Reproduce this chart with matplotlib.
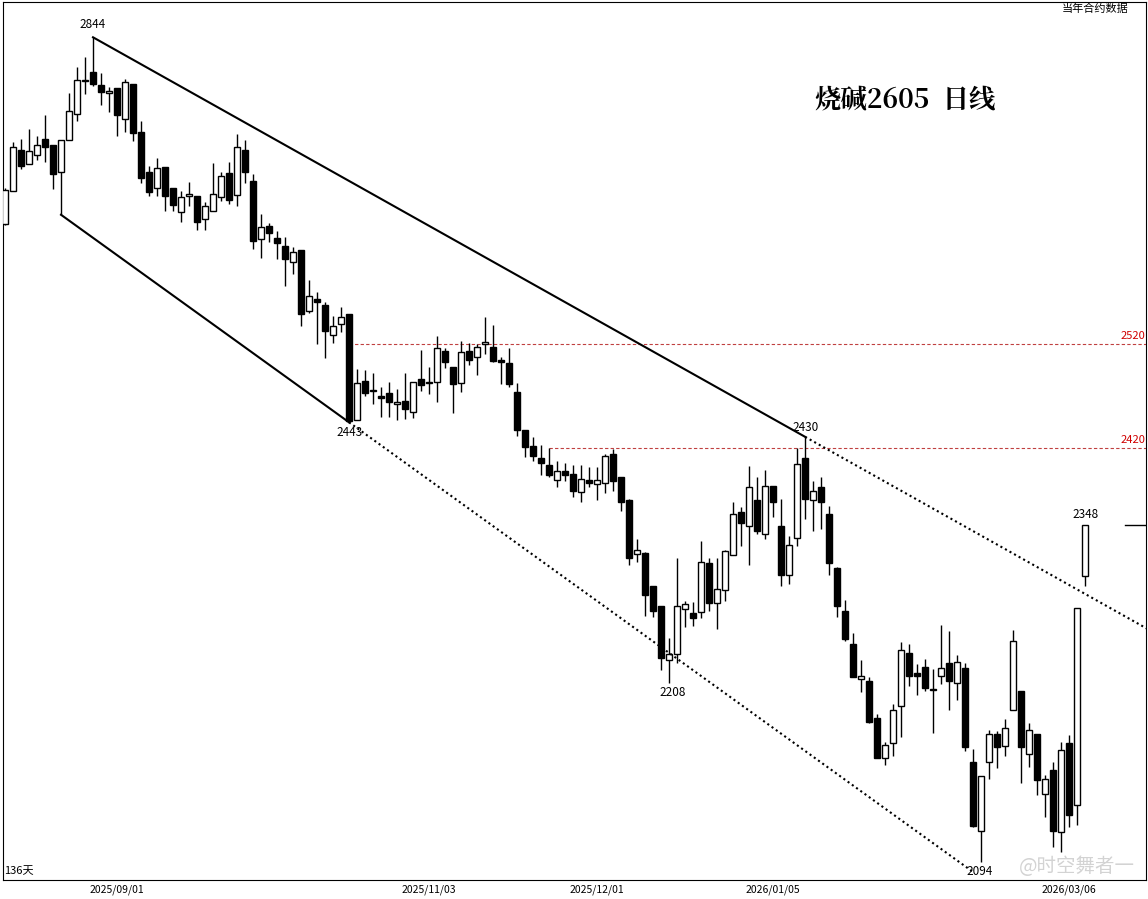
import matplotlib
matplotlib.use("Agg")
import matplotlib.pyplot as plt
import numpy as np

plt.rcParams['font.family'] = ['Noto Sans CJK SC', 'DejaVu Sans']

opens = [2636,2668,2707,2694,2703,2718,2712,2686,2717,2742,2774,2783,2770,2762,2767,2737,2771,2725,2686,2671,
         2691,2671,2648,2663,2663,2641,2649,2662,2685,2664,2707,2678,2622,2634,2623,2615,2599,2611,2552,2564,
         2558,2529,2540,2549,2447,2485,2475,2470,2473,2463,2466,2455,2487,2484,2484,2514,2498,2483,2514,2508,
         2520,2518,2505,2502,2474,2438,2422,2411,2404,2389,2398,2395,2378,2389,2386,2387,2414,2392,2370,2318,
         2319,2287,2268,2216,2222,2265,2261,2262,2309,2271,2283,2317,2359,2345,2370,2337,2384,2345,2298,2334,
         2411,2370,2383,2357,2305,2263,2231,2198,2196,2160,2122,2136,2172,2223,2203,2209,2188,2201,2213,2194,
         2208,2118,2051,2118,2145,2133,2168,2186,2125,2145,2087,2110,2050,2136,2076,2297]
highs = [2671,2715,2718,2728,2721,2741,2712,2717,2762,2787,2797,2816,2782,2768,2767,2776,2771,2735,2692,2700,
         2691,2671,2668,2677,2663,2657,2695,2686,2696,2723,2717,2684,2646,2637,2629,2624,2614,2611,2582,2571,
         2561,2547,2556,2549,2496,2495,2493,2479,2484,2477,2493,2484,2515,2498,2528,2517,2498,2523,2521,2520,
         2546,2539,2508,2517,2483,2438,2431,2423,2420,2408,2406,2404,2404,2402,2402,2414,2419,2392,2371,2333,
         2320,2287,2268,2237,2314,2273,2272,2331,2314,2314,2322,2368,2363,2403,2392,2399,2384,2371,2335,2420,
         2431,2388,2392,2364,2306,2274,2242,2216,2200,2164,2137,2174,2233,2231,2212,2217,2207,2250,2244,2221,
         2213,2130,2104,2149,2148,2159,2245,2186,2155,2145,2105,2118,2137,2144,2266,2346]
lows = [2635,2668,2689,2694,2698,2696,2670,2645,2717,2735,2761,2769,2751,2744,2721,2725,2716,2676,2663,2663,
        2649,2649,2638,2653,2630,2630,2649,2658,2655,2653,2676,2612,2603,2619,2602,2576,2588,2538,2550,2520,
        2507,2521,2532,2445,2447,2470,2463,2450,2450,2447,2448,2449,2475,2472,2465,2497,2454,2474,2500,2491,
        2511,2503,2482,2479,2432,2412,2408,2394,2392,2383,2388,2373,2368,2383,2370,2377,2379,2360,2308,2310,
        2258,2257,2206,2194,2213,2248,2249,2256,2263,2246,2273,2317,2326,2308,2337,2333,2354,2287,2289,2326,
        2352,2340,2342,2298,2257,2234,2200,2185,2155,2122,2115,2123,2142,2191,2182,2186,2146,2193,2168,2177,
        2128,2055,2021,2101,2112,2123,2168,2097,2113,2086,2065,2036,2031,2055,2057,2287]
closes = [2669,2710,2692,2706,2712,2710,2684,2717,2745,2775,2775,2771,2763,2764,2741,2773,2724,2680,2667,2690,
          2663,2654,2662,2665,2638,2653,2665,2682,2659,2710,2686,2620,2633,2627,2618,2602,2609,2549,2567,2561,
          2533,2538,2546,2446,2483,2473,2476,2468,2465,2465,2458,2484,2481,2483,2517,2503,2482,2513,2505,2518,
          2522,2504,2503,2482,2438,2421,2413,2406,2394,2398,2394,2379,2390,2387,2389,2413,2388,2368,2314,2322,
          2279,2263,2218,2222,2268,2270,2256,2310,2271,2284,2321,2357,2348,2383,2340,2384,2368,2298,2327,2405,
          2371,2379,2368,2309,2268,2236,2200,2201,2156,2122,2134,2168,2226,2201,2201,2189,2187,2208,2196,2214,
          2132,2056,2104,2145,2132,2150,2234,2132,2149,2100,2101,2051,2129,2067,2266,2346]

date_idx = [14, 53, 74, 96, 133]
date_labels = ["2025/09/01", "2025/11/03", "2025/12/01", "2026/01/05", "2026/03/06"]
levels = [2520, 2420]
level_start = [43, 68]

o = np.array(opens); h = np.array(highs); l = np.array(lows); c = np.array(closes)
x = np.arange(len(o))

fig = plt.figure(figsize=(11.48, 8.99), dpi=100)
ax = fig.add_axes([3/1148, 19/899, 1143/1148, 878/899])
ax.set_xlim(-0.25, 142.6)
ax.set_ylim(2004, 2850)

lw = 1.0
ax.vlines(x, l, h, color='black', linewidth=lw, zorder=2)
up = c >= o
bot = np.minimum(o, c); ht = np.maximum(np.abs(c - o), 0.8)
ax.bar(x[up], ht[up], bottom=bot[up], width=0.72, facecolor='white', edgecolor='black', linewidth=lw, zorder=3)
ax.bar(x[~up], ht[~up], bottom=bot[~up], width=0.72, facecolor='black', edgecolor='black', linewidth=lw, zorder=3)

i1, i2 = 11, 100
p1, p2 = highs[i1], highs[i2]
s = (p2 - p1) / (i2 - i1)
ax.plot([i1, i2], [p1, p2], color='black', linewidth=1.5, zorder=4)
ax.plot([i2, 143], [p2, p2 + s * (143 - i2)], color='black', linewidth=1.5, linestyle=(0, (1, 1.5)), zorder=4)
j1, j2 = 7, 43
q1, q2 = lows[j1], lows[j2]
s2 = (q2 - q1) / (j2 - j1)
ax.plot([j1, j2], [q1, q2], color='black', linewidth=1.5, zorder=4)
ax.plot([j2, 121], [q2, q2 + s2 * (121 - j2)], color='black', linewidth=1.5, linestyle=(0, (1, 1.5)), zorder=4)

for lv, st in zip(levels, level_start):
    ax.plot([st, 143], [lv, lv], color='#c04040', linewidth=0.8, linestyle=(0, (3, 2)), zorder=1)
    ax.text(142.5, lv + 3, str(lv), color='#d00000', fontsize=8, ha='right', va='bottom')

ax.plot([140, 143], [closes[-1], closes[-1]], color='black', linewidth=1)

fs = 8.5
ax.text(11, 2822, "2844", fontsize=fs, ha='center', va='bottom')
ax.text(43, 2441, "2443", fontsize=fs, ha='center', va='top')
ax.text(100, 2434, "2430", fontsize=fs, ha='center', va='bottom')
ax.text(83.5, 2191, "2208", fontsize=fs, ha='center', va='top')
ax.text(135, 2350, "2348", fontsize=fs, ha='center', va='bottom')
ax.text(121.8, 2018, "2094", fontsize=fs, ha='center', va='top', zorder=6)

ax.text(0.985, 0.998, "当年合约数据", transform=ax.transAxes, fontsize=8, ha='right', va='top')
ax.text(0.001, 0.004, "136天", transform=ax.transAxes, fontsize=8, ha='left', va='bottom')
ax.text(101.2, 2755, "烧碱2605  日线", fontsize=19, fontweight='bold', ha='left', va='center',
        family=['Noto Serif CJK SC', 'Noto Sans CJK SC', 'DejaVu Sans'])
ax.text(0.99, 0.003, "@时空舞者一", transform=ax.transAxes, fontsize=14, ha='right', va='bottom',
        color='#c8c8c8', alpha=0.8, zorder=0)

ax.set_xticks(date_idx)
ax.set_xticklabels(date_labels, fontsize=7.5)
ax.tick_params(axis='x', length=0, pad=3)
ax.set_yticks([])
for sp in ax.spines.values():
    sp.set_linewidth(0.8)

fig.savefig("out.png", dpi=100)
